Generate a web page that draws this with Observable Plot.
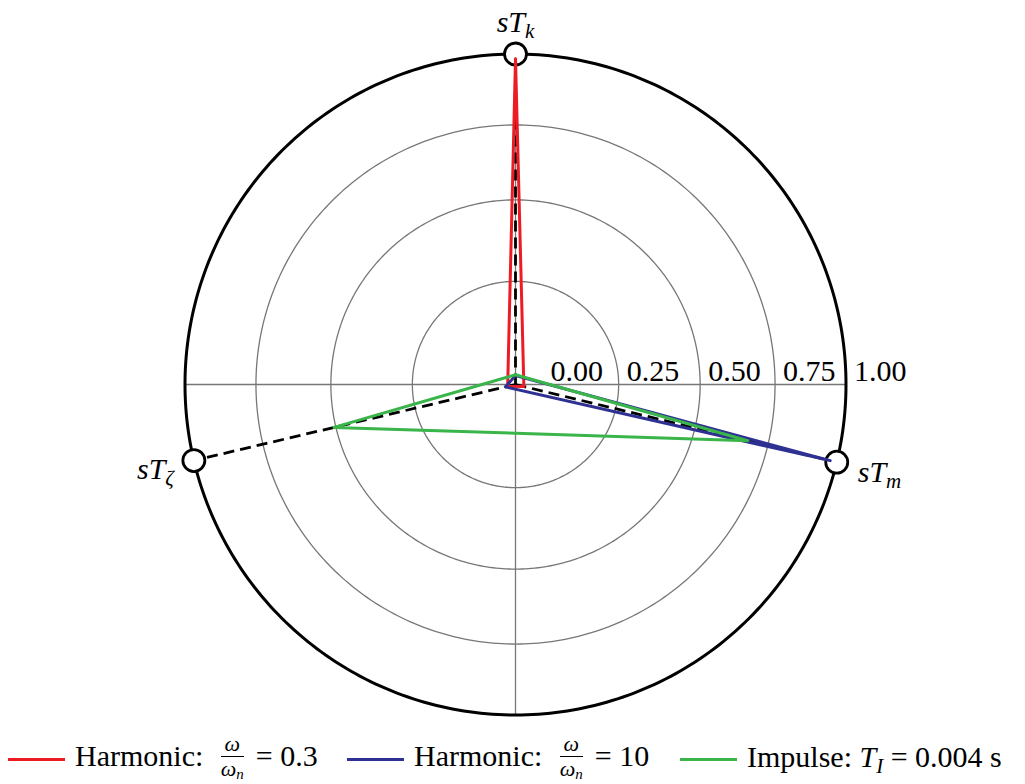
<!DOCTYPE html>
<html>
<head>
<meta charset="utf-8">
<script src="https://cdn.jsdelivr.net/npm/d3@7"></script>
<script src="https://cdn.jsdelivr.net/npm/@observablehq/plot@0.6"></script>
<style>
  html, body { margin: 0; padding: 0; background: #fff; }
  #chart svg { display: block; }
  .legend { display: flex; justify-content: flex-start; align-items: center; height: 49px; padding-left: 8px;
    font-family: "Liberation Serif", serif; font-size: 30px; gap: 20px; color: #000; white-space: nowrap; }
  .item { display: flex; align-items: center; gap: 10px; }
  .item.i0 { width: 319px; }
  .item.i1 { width: 313px; }
  .swatch { width: 57px; height: 3px; flex: none; }
  .frac { display: inline-block; vertical-align: middle; text-align: center; font-size: 22px; line-height: 1; margin: 0 12px 0 10px; position: relative; top: -2px; }
  .frac .num { display: block; border-bottom: 1.4px solid #000; padding: 0 1px 1px; }
  .frac .den { display: block; padding-top: 1px; }
  .frac sub { font-size: 15px; vertical-align: -3px; }
  sub.s { font-size: 21px; vertical-align: -6px; font-style: italic; }
</style>
</head>
<body>
<div id="chart"></div>
<div class="legend" id="legend"></div>
<script>
// ---- data ----
const axisNames = ["k", "m", "ζ"];
const seriesNames = ["Harmonic 0.3", "Harmonic 10", "Impulse 0.004"];
const harmonic03 = [0.983, 0.013, 0.012];
const harmonic10 = [0.0137, 0.976, 0.0163];
const impulse = [0.015, 0.68, 0.506];
const tickValues = [0, 0.25, 0.5, 0.75, 1];
const tickLabels = ["0.00", "0.25", "0.50", "0.75", "1.00"];

// ---- layout ----
const W = 1025, H = 735;
const cx = 515, cy = 384, R = 330.5;
const axisAngles = [90, -13.6, 193.3]; // degrees
const colors = ["#ED1C24", "#2E3192", "#39B54A"];
const rs = d3.scalePow().exponent(0.84).domain([0, 1]).range([0, 1]);
const rad = d => d * Math.PI / 180;
const pt = (v, aDeg) => ({x: rs(v) * Math.cos(rad(aDeg)), y: rs(v) * Math.sin(rad(aDeg))});

const seriesVals = [harmonic03, harmonic10, impulse];
const polyPts = [];
seriesVals.forEach((vals, s) => {
  [0, 1, 2, 0].forEach(i => polyPts.push({series: seriesNames[s], ...pt(vals[i], axisAngles[i])}));
});

const circlePts = [];
[0.25, 0.5, 0.75].forEach(v => d3.range(0, 361, 1).forEach(a => circlePts.push({v, ...pt(v, a)})));
const outerPts = d3.range(0, 361, 1).map(a => pt(1, a));

const cross = [
  {x1: -1, y1: 0, x2: 1, y2: 0},
  {x1: 0, y1: -1, x2: 0, y2: 1}
];
const axisEnds = axisNames.map((n, i) => ({name: n, ...pt(1, axisAngles[i])}));

const ticks = tickValues.map((v, i) => ({label: tickLabels[i], x: Math.max(rs(v), 27 / R), y: 0}));

const labelStyle = [
  {dx: 0, dy: -22, anchor: "middle"},
  {dx: 21, dy: 20, anchor: "start"},
  {dx: -20, dy: 18, anchor: "end"}
];

const plot = Plot.plot({
  width: W, height: H,
  marginTop: 0, marginRight: 0, marginBottom: 0, marginLeft: 0,
  x: {domain: [-cx / R, (W - cx) / R], axis: null},
  y: {domain: [-(H - cy) / R, cy / R], axis: null},
  color: {domain: seriesNames, range: colors},
  style: {background: "#fff"},
  marks: [
    Plot.line(circlePts, {x: "x", y: "y", z: "v", stroke: "#777", strokeWidth: 1.3}),
    Plot.link(cross, {x1: "x1", y1: "y1", x2: "x2", y2: "y2", stroke: "#777", strokeWidth: 1.3}),
    Plot.line(outerPts, {x: "x", y: "y", stroke: "#000", strokeWidth: 3}),
    Plot.link(axisEnds, {x1: () => 0, y1: () => 0, x2: "x", y2: "y", stroke: "#000", strokeWidth: 2.8, strokeDasharray: "11,6"}),
    Plot.dot(axisEnds, {x: "x", y: "y", r: 11, fill: "#fff", stroke: "#000", strokeWidth: 2.8}),
    Plot.line(polyPts, {x: "x", y: "y", z: "series", stroke: "series", strokeWidth: 3}),
    Plot.text(ticks, {x: "x", y: "y", text: "label", dx: 8, dy: -4, textAnchor: "start", lineAnchor: "bottom",
      fontFamily: "Liberation Serif", fontSize: 30, fill: "#000"}),
    ...axisEnds.map((d, i) => Plot.text([d], {x: "x", y: "y", text: e => "sT" + e.name,
      dx: labelStyle[i].dx, dy: labelStyle[i].dy, textAnchor: labelStyle[i].anchor, lineAnchor: "bottom",
      fontFamily: "Liberation Serif", fontSize: 30, fontStyle: "italic", fill: "#000", className: "axlab"}))
  ]
});
document.getElementById("chart").appendChild(plot);

// subscripts for axis labels
plot.querySelectorAll(".axlab text").forEach(t => {
  const s = t.textContent;
  const main = s.slice(0, 2), sub = s.slice(2);
  while (t.firstChild) t.removeChild(t.firstChild);
  const ns = "http://www.w3.org/2000/svg";
  const a = document.createElementNS(ns, "tspan"); a.textContent = main; t.appendChild(a);
  const b = document.createElementNS(ns, "tspan"); b.textContent = sub;
  b.setAttribute("dy", "6"); b.setAttribute("font-size", "21"); t.appendChild(b);
});

// legend
const legendHTML = [
  `Harmonic: <span class="frac"><span class="num"><i>ω</i></span><span class="den"><i>ω<sub>n</sub></i></span></span>= 0.3`,
  `Harmonic: <span class="frac"><span class="num"><i>ω</i></span><span class="den"><i>ω<sub>n</sub></i></span></span>= 10`,
  `Impulse: <i>T</i><sub class="s">I</sub> = 0.004 s`
];
const leg = document.getElementById("legend");
seriesNames.forEach((n, i) => {
  const it = document.createElement("div"); it.className = "item i" + i;
  it.innerHTML = `<span class="swatch" style="background:${colors[i]}"></span><span>${legendHTML[i]}</span>`;
  leg.appendChild(it);
});
</script>
</body>
</html>
